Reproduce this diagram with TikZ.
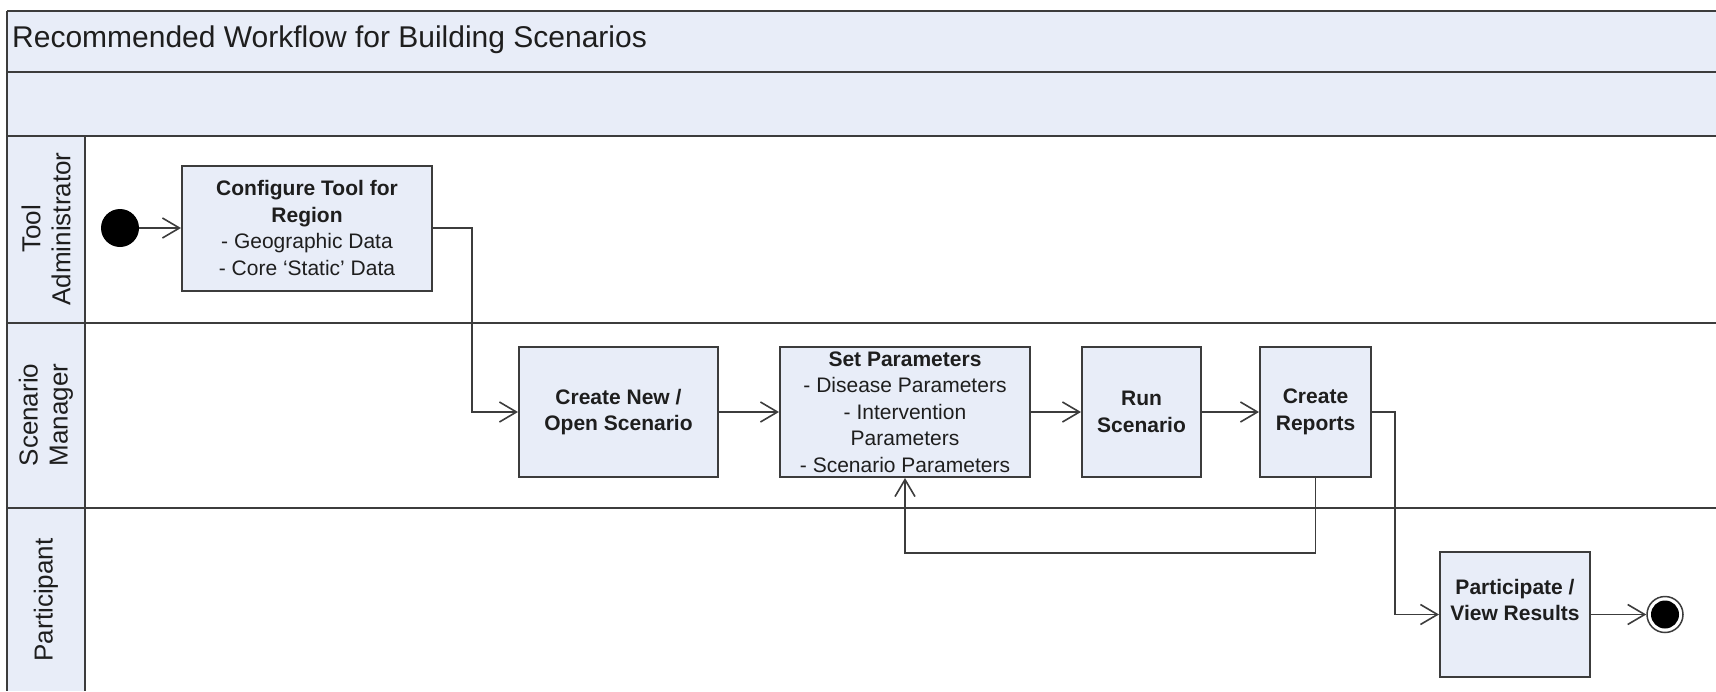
\documentclass[tikz,border=0pt]{standalone}
\usepackage{fontspec}
\setmainfont{Liberation Sans}
\usetikzlibrary{arrows.meta}
\definecolor{lanefill}{RGB}{232,237,248}
\definecolor{edgegray}{RGB}{60,60,60}
\definecolor{txt}{RGB}{30,30,30}
\begin{document}
\begin{tikzpicture}[x=1pt,y=-1pt,
  lanehead/.style={rotate=90,align=center,text=txt,font=\fontsize{26}{30}\selectfont,inner sep=0pt},
  actbox/.style={draw=edgegray,line width=2pt,fill=lanefill,rectangle,inner sep=0pt,align=center,text=txt,font=\fontsize{21}{26.5}\selectfont},
  flow/.style={draw=edgegray,line width=1.6pt,-{Straight Barb[length=17pt,width=20pt,line width=1.6pt]}},
  laneline/.style={draw=edgegray,line width=2.6pt}]
\useasboundingbox (0,0) rectangle (1716,691);
% header bands and lane label column
\fill[lanefill] (7,11) rectangle (1716,136);
\fill[lanefill] (7,136) rectangle (85,691);
\draw[laneline] (7,11) -- (1716,11);
\draw[laneline] (7,72) -- (1716,72);
\draw[laneline] (7,136) -- (1716,136);
\draw[laneline] (7,323) -- (1716,323);
\draw[laneline] (7,508) -- (1716,508);
\draw[laneline] (7,11) -- (7,691);
\draw[laneline] (85,136) -- (85,691);
% title
\node[anchor=west,inner sep=0pt,text=txt,font=\fontsize{30}{36}\selectfont] (title) at (12,40) {Recommended Workflow for Building Scenarios};
% lane labels
\node[lanehead] (laneA) at (46,229) {Tool\\Administrator};
\node[lanehead] (laneB) at (46,415) {Scenario\\Manager};
\node[lanehead] (laneC) at (46,600) {Participant};
% start and end
\node[circle,fill=black,minimum size=38pt,inner sep=0pt] (start) at (120,228) {};
\node[circle,draw=edgegray,line width=1.5pt,fill=white,minimum size=36pt,inner sep=0pt] (end) at (1665,614.5) {};
\fill[black] (end.center) circle (14);
% activity boxes
\node[actbox,minimum width=250pt,minimum height=125pt] (cfg) at (307,228)
  {\textbf{Configure Tool for}\\\textbf{Region}\\- Geographic Data\\- Core `Static' Data};
\node[actbox,minimum width=199pt,minimum height=130pt] (new) at (618.5,412)
  {\textbf{Create New /}\\\textbf{Open Scenario}};
\node[actbox,minimum width=250pt,minimum height=130pt] (set) at (905,412)
  {\textbf{Set Parameters}\\- Disease Parameters\\- Intervention\\Parameters\\- Scenario Parameters};
\node[actbox,minimum width=119pt,minimum height=130pt] (run) at (1141.5,412)
  {\textbf{Run}\\\textbf{Scenario}};
\node[actbox,minimum width=111pt,minimum height=130pt] (rep) at (1315.5,412)
  {\textbf{Create}\\\textbf{Reports}};
\node[actbox,minimum width=150pt,minimum height=125pt] (part) at (1515,614.5)
  {\textbf{Participate /}\\\textbf{View Results}\\[3pt]};
% helper coordinates
\coordinate (j1) at (472,228);
\coordinate (loopy) at (0,553);
\coordinate (j2) at (1395,412);
% connectors
\draw[flow] (start) -- (cfg.west);
\draw[flow] (cfg.east) -- (j1) |- (new.west);
\draw[flow] (new.east) -- (set.west);
\draw[flow] (set.east) -- (run.west);
\draw[flow] (run.east) -- (rep.west);
\draw[flow] (rep.south) -- (rep.south |- loopy) -| (set.south);
\draw[flow] (rep.east) -- (j2) |- (part.west);
\draw[flow] (part.east) -- (end.west);
\end{tikzpicture}
\end{document}
